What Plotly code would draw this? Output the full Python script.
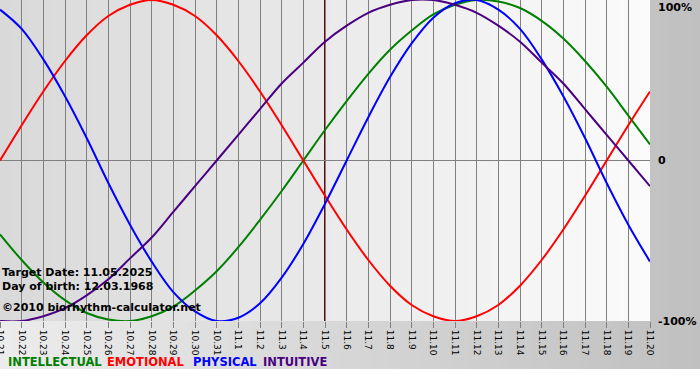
import plotly.graph_objects as go

# ---- data ----
dates = ["10.21", "10.22", "10.23", "10.24", "10.25", "10.26", "10.27", "10.28", "10.29", "10.30", "10.31",
         "11.1", "11.2", "11.3", "11.4", "11.5", "11.6", "11.7", "11.8", "11.9", "11.10",
         "11.11", "11.12", "11.13", "11.14", "11.15", "11.16", "11.17", "11.18", "11.19", "11.20"]
intellectual = [-46, -62, -76, -87, -95, -99, -100, -97, -91, -81, -69, -54, -37, -19, 0, 19, 37, 54, 69, 81,
                91, 97, 100, 99, 95, 87, 76, 62, 46, 28, 10]
emotional = [0, 22, 43, 62, 78, 90, 97, 100, 97, 90, 78, 62, 43, 22, 0, -22, -43, -62, -78, -90,
             -97, -100, -97, -90, -78, -62, -43, -22, 0, 22, 43]
physical = [94, 82, 63, 40, 14, -14, -40, -63, -82, -94, -100, -98, -89, -73, -52, -27, 0, 27, 52, 73,
            89, 98, 100, 94, 82, 63, 40, 14, -14, -40, -63]
intuitive = [-100, -100, -97, -92, -84, -74, -61, -48, -32, -16, 0, 16, 32, 48, 61, 74, 84, 92, 97, 100,
             100, 97, 92, 84, 74, 61, 48, 32, 16, 0, -16]
target_label = "11.5"
series_names = ["INTELLECTUAL", "EMOTIONAL", "PHYSICAL", "INTUITIVE"]
y_labels = ["100%", "0", "-100%"]
y_label_vals = [100, 0, -100]

# ---- styling ----
W, H = 700, 380
ML, MR, MT, MB = 0, 50, 0, 59
PW, PH = W - ML - MR, H - MT - MB
colors = {"INTELLECTUAL": "#008000", "EMOTIONAL": "#ff0000", "PHYSICAL": "#0000ff", "INTUITIVE": "#4b0082"}
FONT = "DejaVu Sans"

idx = list(range(len(dates)))
fig = go.Figure()
for name, vals in zip(series_names, [intellectual, emotional, physical, intuitive]):
    fig.add_trace(go.Scatter(x=idx, y=vals, mode="lines", name=name, showlegend=False,
                             line=dict(color=colors[name], width=2, shape="spline", smoothing=1)))

shapes = []
# outer frame gradient (light left -> darker right)
n_out = 70
x_right = W / PW
y_bot = -(369 - PH) / PH
for i in range(n_out):
    f = i / (n_out - 1)
    g = int(round(236 - (236 - 192) * f))
    shapes.append(dict(type="rect", xref="paper", yref="paper",
                       x0=x_right * i / n_out, x1=x_right * (i + 1) / n_out + 0.002,
                       y0=y_bot, y1=1, fillcolor=f"rgb({g},{g},{g})", line_width=0, layer="below"))
# plot area gradient (grey left -> white right)
n_in = 65
for i in range(n_in):
    f = i / (n_in - 1)
    g = int(round(217 + (251 - 217) * f))
    shapes.append(dict(type="rect", xref="paper", yref="paper",
                       x0=i / n_in, x1=min((i + 1) / n_in + 0.002, 1),
                       y0=0, y1=1, fillcolor=f"rgb({g},{g},{g})", line_width=0, layer="below"))
# target date line
ti = dates.index(target_label)
shapes.append(dict(type="line", xref="x", yref="paper", x0=ti, x1=ti, y0=0, y1=1,
                   line=dict(color="#6e0a0a", width=2), layer="between"))

annotations = []
for txt, v in zip(y_labels, y_label_vals):
    ypix = (100 - v) / 200 * PH
    if v == 100:
        ypix = 7
    annotations.append(dict(text=f"<b>{txt}</b>", xref="paper", yref="paper",
                            x=(656 - ML) / PW, y=1 - ypix / PH, xanchor="left", yanchor="middle",
                            showarrow=False, font=dict(family=FONT, size=11, color="#000000")))
info = [("Target Date: 11.05.2025", 272), ("Day of birth: 12.03.1968", 286),
        ("©2010 biorhythm-calculator.net", 307)]
for txt, yp in info:
    annotations.append(dict(text=f"<b>{txt}</b>", xref="paper", yref="paper",
                            x=0, y=1 - yp / PH, xanchor="left", yanchor="middle",
                            showarrow=False, font=dict(family=FONT, size=11, color="#000000")))
legend_x = [6, 105, 191, 261]
for name, xp in zip(series_names, legend_x):
    annotations.append(dict(text=f"<b>{name}</b>", xref="paper", yref="paper",
                            x=xp / PW, y=1 - 362 / PH, xanchor="left", yanchor="middle",
                            showarrow=False, font=dict(family=FONT, size=11.5, color=colors[name])))

fig.update_layout(
    width=W, height=H, margin=dict(l=ML, r=MR, t=MT, b=MB, pad=0),
    paper_bgcolor="#ffffff", plot_bgcolor="rgba(0,0,0,0)",
    shapes=shapes, annotations=annotations,
    xaxis=dict(range=[0, len(dates) - 1], tickvals=idx, ticktext=dates, tickangle=90,
               ticks="outside", ticklen=6, tickcolor="#808080", tickwidth=1,
               ticklabeloverflow="allow", automargin=False,
               showgrid=True, gridcolor="#808080", gridwidth=1, zeroline=False,
               tickfont=dict(family=FONT, size=9, color="#000000"), fixedrange=True),
    yaxis=dict(range=[-100, 100], tickvals=y_label_vals, showticklabels=False, automargin=False,
               showgrid=True, gridcolor="#808080", gridwidth=1, zeroline=False, fixedrange=True),
)
fig.write_html("out.html", config={"displayModeBar": False},
               post_script="document.body.style.margin='0';document.body.style.overflow='hidden';")
